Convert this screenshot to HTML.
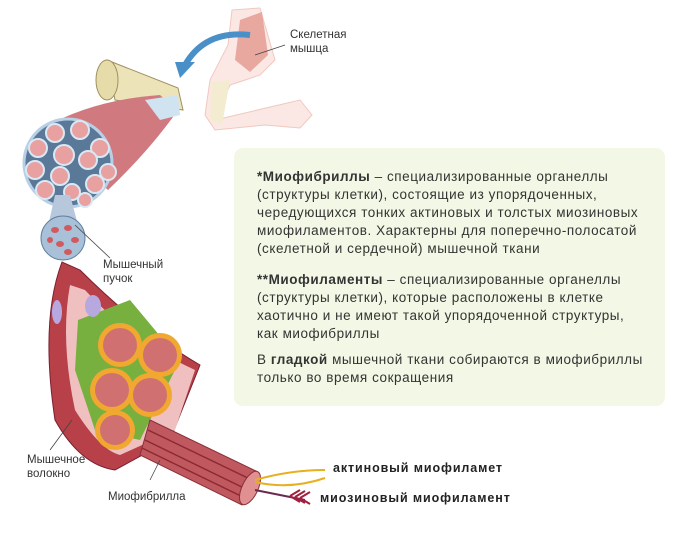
<!DOCTYPE html>
<html><head><meta charset="utf-8"><style>
body{margin:0;width:687px;height:535px;background:#fff;position:relative;overflow:hidden;font-family:"Liberation Sans",sans-serif;}
.box{position:absolute;left:234px;top:148px;width:431px;height:258px;background:#f3f8e6;border-radius:9px;}
.box p{margin:0;position:absolute;left:23px;font-size:13.5px;line-height:18px;color:#333;white-space:nowrap;letter-spacing:0.55px;}
.lbl{position:absolute;font-size:11.5px;line-height:14px;color:#333;}
.bl{position:absolute;font-size:12.5px;font-weight:bold;color:#222;letter-spacing:0.9px;}
</style></head><body>
<svg width="687" height="535" style="position:absolute;left:0;top:0">
<path d="M232,10 L260,8 L275,60 L260,75 L230,85 L215,120 L300,100 L312,115 L300,128 L265,125 L215,130 L205,115 L210,80 L228,45 Z" fill="#fbe8e4" stroke="#f0c8c0"/>
<path d="M240,20 L262,12 L268,55 L250,72 L235,60 Z" fill="#e8a8a0"/>
<path d="M212,82 L230,80 L222,125 L210,120 Z" fill="#f4ecd0"/>
<path d="M250,35 Q205,30 185,65" fill="none" stroke="#4a90c8" stroke-width="6"/>
<polygon points="175,62 195,62 180,78" fill="#4a90c8"/>
<line x1="285" y1="45" x2="255" y2="55" stroke="#444" stroke-width="0.8"/>
<path d="M107,60 L178,88 L183,110 L115,100 Z" fill="#ece4b8" stroke="#a09060"/>
<ellipse cx="107" cy="80" rx="11" ry="20" fill="#e6dcaa" stroke="#a09060"/>
<path d="M40,130 Q90,100 160,95 L178,110 Q150,150 108,190 Z" fill="#d07a80"/>
<path d="M145,100 L178,95 L180,115 L160,120 Z" fill="#cfe4f0"/>
<circle cx="68" cy="163" r="44" fill="#5a7898" stroke="#b8d0e6" stroke-width="3"/>
<g fill="#e8a0a0" stroke="#d8e8f4" stroke-width="2">
<circle cx="55" cy="133" r="9"/><circle cx="80" cy="130" r="9"/><circle cx="100" cy="148" r="9"/>
<circle cx="38" cy="148" r="9"/><circle cx="64" cy="155" r="10"/><circle cx="88" cy="160" r="9"/>
<circle cx="35" cy="170" r="9"/><circle cx="60" cy="176" r="9"/><circle cx="108" cy="172" r="8"/>
<circle cx="45" cy="190" r="9"/><circle cx="72" cy="192" r="8"/><circle cx="95" cy="184" r="9"/><circle cx="85" cy="200" r="7"/>
</g>
<path d="M55,195 L70,195 L82,240 L45,240 Z" fill="#b8c8dc"/>
<circle cx="63" cy="238" r="22" fill="#a8c0d8" stroke="#6080a0"/>
<g fill="#d05a60"><ellipse cx="55" cy="230" rx="4" ry="3"/><ellipse cx="68" cy="228" rx="4" ry="3"/><ellipse cx="75" cy="240" rx="4" ry="3"/><ellipse cx="60" cy="244" rx="4" ry="3"/><ellipse cx="50" cy="240" rx="3" ry="3"/><ellipse cx="68" cy="252" rx="4" ry="3"/></g>
<line x1="75" y1="225" x2="110" y2="258" stroke="#444" stroke-width="0.8"/>
<path d="M62,262 Q40,320 55,420 Q80,465 115,470 L170,440 L200,365 Q140,330 80,270 Z" fill="#b84048" stroke="#7a2030"/>
<path d="M70,285 Q60,340 75,410 Q100,450 120,455 L175,430 L195,370 Q130,340 85,290 Z" fill="#f0c0c0"/>
<path d="M78,320 L130,300 L180,360 L140,440 L95,430 L75,370 Z" fill="#78b040"/>
<g fill="#f0a830"><circle cx="120" cy="345" r="22"/><circle cx="160" cy="355" r="22"/><circle cx="112" cy="390" r="22"/><circle cx="150" cy="395" r="22"/><circle cx="115" cy="430" r="20"/></g>
<g fill="#d07070"><circle cx="120" cy="345" r="17"/><circle cx="160" cy="355" r="17"/><circle cx="112" cy="390" r="17"/><circle cx="150" cy="395" r="17"/><circle cx="115" cy="430" r="15"/></g>
<ellipse cx="93" cy="306" rx="8" ry="11" fill="#b8a8e0"/>
<ellipse cx="57" cy="312" rx="5" ry="12" fill="#b8a8e0"/>
<line x1="72" y1="420" x2="50" y2="450" stroke="#444" stroke-width="0.8"/>
<path d="M150,420 L258,472 L242,505 L140,455 Z" fill="#c05860" stroke="#8a3038"/>
<g stroke="#8a2a30" stroke-width="1.5"><line x1="148" y1="430" x2="252" y2="480"/><line x1="145" y1="440" x2="248" y2="490"/><line x1="142" y1="448" x2="245" y2="498"/></g>
<ellipse cx="250" cy="488" rx="8" ry="18" transform="rotate(25 250 488)" fill="#e09090" stroke="#8a3038"/>
<line x1="150" y1="480" x2="160" y2="460" stroke="#444" stroke-width="0.8"/>
<path d="M255,480 Q290,470 325,470" stroke="#e8b020" stroke-width="2" fill="none"/>
<path d="M255,482 Q290,490 325,478" stroke="#e8b020" stroke-width="2" fill="none"/>
<path d="M255,490 L305,500" stroke="#6a2a50" stroke-width="2"/>
<path d="M290,496 l10,-6 M295,497 l10,-6 M300,498 l10,-6 M290,496 l10,6 M295,497 l10,6 M300,498 l10,6" stroke="#a02040" stroke-width="2"/>
</svg>
<div class="lbl" style="left:290px;top:28px">Скелетная<br>мышца</div>
<div class="lbl" style="left:103px;top:258px">Мышечный<br>пучок</div>
<div class="lbl" style="left:27px;top:453px">Мышечное<br>волокно</div>
<div class="lbl" style="left:108px;top:490px">Миофибрилла</div>
<div class="bl" style="left:333px;top:461px">актиновый миофиламет</div>
<div class="bl" style="left:320px;top:491px">миозиновый миофиламент</div>
<div class="box">
<p style="top:20px"><b>*Миофибриллы</b> – специализированные органеллы<br>(структуры клетки), состоящие из упорядоченных,<br>чередующихся тонких актиновых и толстых миозиновых<br>миофиламентов. Характерны для поперечно-полосатой<br>(скелетной и сердечной) мышечной ткани</p>
<p style="top:123px"><b>**Миофиламенты</b> – специализированные органеллы<br>(структуры клетки), которые расположены в клетке<br>хаотично и не имеют такой упорядоченной структуры,<br>как миофибриллы</p>
<p style="top:203px">В <b>гладкой</b> мышечной ткани собираются в миофибриллы<br>только во время сокращения</p>
</div>
</body></html>
